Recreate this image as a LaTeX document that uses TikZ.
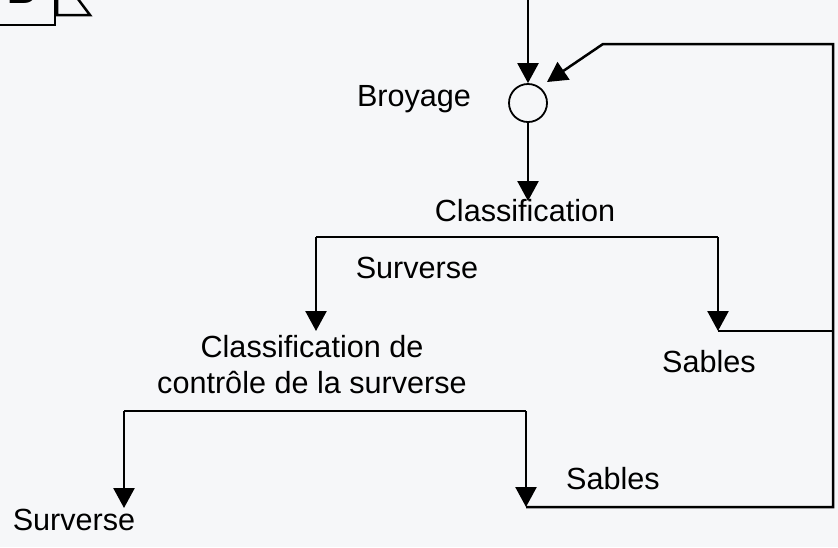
\documentclass[tikz,border=0pt]{standalone}
\usepackage{fontspec}
\setmainfont{Liberation Sans}
\usetikzlibrary{arrows.meta,calc}
\definecolor{paperbg}{RGB}{246, 247, 249}

\begin{document}
\begin{tikzpicture}[x=0.5pt, y=-0.5pt,
        flow/.style={line width=1.25pt, -{Triangle[length=10pt, width=10.5pt]}},
        pipe/.style={line width=1.25pt},
        mill/.style={draw, circle, line width=0.9pt, minimum size=19pt, inner sep=0pt},
        lbl/.style={font=\fontsize{15.3}{18}\selectfont, inner sep=0pt, align=center, anchor=base}]
        % Page and margins
        \fill[paperbg] (0, 0) rectangle (838, 547);
        \useasboundingbox (0, 0) rectangle (838, 547);

        % Cut-off sketch in the top left corner
        \begin{scope}
            \clip (0, 0) rectangle (838, 547);
            \node[font=\fontsize{20}{20}\selectfont\bfseries, inner sep=0pt, anchor=base] (mark) at (22, 3) {B};
            \draw[pipe] (55, -5) -- (55, 25) -- (-5, 25);
            \draw[pipe] (57, -5) -- (57, 15) -- (90, 15) -- (75, -5);
        \end{scope}

        % Grinding
        \coordinate (feed) at (528, 0);
        \node[mill] (broy) at (528, 103) {};
        \node[lbl] (broytxt) at (414, 106) {Broyage};
        \draw[flow] (feed) -- (broy);

        % Classification
        \node[lbl] (cls) at (525, 221) {Classification};
        \coordinate (clsin) at (528, 201);
        \draw[flow] (broy) -- (clsin);

        % First split
        \coordinate (s1l) at (316, 237);
        \coordinate (s1r) at (718, 237);
        \coordinate (ctlin) at (316, 331);
        \coordinate (sab1) at (718, 331);
        \draw[pipe] (s1l) -- (s1r);
        \draw[flow] (s1l) -- (ctlin);
        \draw[flow] (s1r) -- (sab1);
        \node[lbl] (surv1) at (417, 278) {Surverse};
        \node[lbl] (sab1txt) at (709, 372) {Sables};

        % Control classification of the overflow
        \node[lbl, anchor=north] (ctl) at (312, 335) {Classification de\\contr\^ole de la surverse};

        % Second split
        \coordinate (s2l) at (124, 411);
        \coordinate (s2r) at (526, 411);
        \coordinate (survout) at (124, 508);
        \coordinate (sab2) at (526, 507);
        \draw[pipe] (s2l) -- (s2r);
        \draw[flow] (s2l) -- (survout);
        \draw[flow] (s2r) -- (sab2);
        \node[lbl] (surv2) at (74, 530) {Surverse};
        \node[lbl] (sab2txt) at (613, 489) {Sables};

        % Sands recycled to grinding
        \coordinate (rc1) at (833, 507);
        \coordinate (rc2) at (833, 44);
        \coordinate (rc3) at (603, 44);
        \coordinate (back) at (547, 82);
        \draw[flow] (sab2) -- (rc1) -- (rc2) -- (rc3) -- (back);
        \draw[pipe] (sab1) -- (833, 331);
    \end{tikzpicture}
\end{document}
